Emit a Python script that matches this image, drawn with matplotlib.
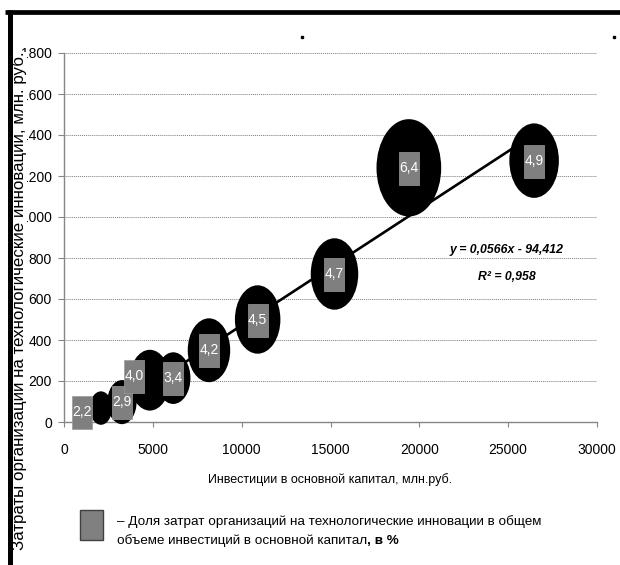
import numpy as np
import matplotlib
matplotlib.use('Agg')
import matplotlib.pyplot as plt
from matplotlib.path import Path
from matplotlib.transforms import Affine2D, offset_copy
from matplotlib.lines import Line2D
from matplotlib.patches import Rectangle

# ---- data ----
invest = [2080, 3260, 4830, 6150, 8160, 10900, 15225, 19410, 26460]   # x, mln rub
costs = [68, 97, 204, 214, 350, 500, 722, 1240, 1275]                  # y, mln rub
share = [2.2, 2.9, 4.0, 3.4, 4.2, 4.5, 4.7, 6.4, 4.9]                  # bubble size, %
share_labels = ['2,2', '2,9', '4,0', '3,4', '4,2', '4,5', '4,7', '6,4', '4,9']
x_ticks = [0, 5000, 10000, 15000, 20000, 25000, 30000]
y_ticks = [0, 200, 400, 600, 800, 1000, 1200, 1400, 1600, 1800]
trend_slope = 0.0566
trend_intercept = -94.412
eq_text = 'y = 0,0566x - 94,412'
r2_text = 'R² = 0,958'
xlabel = 'Инвестиции в основной капитал, млн.руб.'
ylabel = 'Затраты организаций на технологические инновации, млн. руб.'
legend_line1 = '– Доля затрат организаций на технологические инновации в общем'
legend_line2 = 'объеме инвестиций в основной капитал'
legend_tail = ', в %'

# label offsets in pixels (style / placement only)
label_dx = [-18.5, 0, -15.5, 0, 0, 0, 0, 0, 0]
label_dy = [-4, 0, 4.5, 0, 0, 0, 0, 0, 0]

FONT = ['Liberation Sans', 'DejaVu Sans']

W, H = 620, 565
fig = plt.figure(figsize=(W / 100, H / 100), dpi=100)
fig.patch.set_facecolor('white')

ax = fig.add_axes([64 / W, 1 - 422 / H, (597 - 64) / W, (422 - 53) / H])
ax.set_xlim(0, 30000)
ax.set_ylim(0, 1800)
ax.set_facecolor('white')

ax.set_xticks(x_ticks)
ax.set_yticks(y_ticks)
ax.set_xticklabels([str(t) for t in x_ticks], fontfamily=FONT, fontsize=10)
ax.set_yticklabels([str(t) for t in y_ticks], fontfamily=FONT, fontsize=10)
ax.tick_params(axis='x', direction='out', length=3.6, width=0.8, color='#868686', pad=11.5)
ax.tick_params(axis='y', direction='out', length=4.3, width=0.8, color='#868686', pad=4.5)

for s in ['top', 'right']:
    ax.spines[s].set_visible(False)
for s in ['left', 'bottom']:
    ax.spines[s].set_color('#868686')
    ax.spines[s].set_linewidth(1.0)

ax.yaxis.grid(True, linestyle=(0, (1, 1)), color='#7a7a7a', linewidth=0.7)
ax.set_axisbelow(True)

# trend line
xs = np.array([min(invest), max(invest)], dtype=float)
ax.plot(xs, trend_slope * xs + trend_intercept, color='black', lw=1.9, zorder=2.5,
        solid_capstyle='butt')

# bubbles (elliptical, width proportional to share)
ell = Affine2D().scale(0.665, 1.0).transform_path(Path.unit_circle())
sizes = [(v * 15.2 * 0.72) ** 2 for v in share]
ax.scatter(invest, costs, s=sizes, marker=ell, c='black', linewidths=0, zorder=3,
           clip_on=False)

# data labels: grey boxes with white text
rect = Path([(-0.303, -0.5), (0.303, -0.5), (0.303, 0.5), (-0.303, 0.5), (-0.303, -0.5)],
            [Path.MOVETO, Path.LINETO, Path.LINETO, Path.LINETO, Path.CLOSEPOLY])
box_s = (33 * 0.72) ** 2
for x, y, lab, dx, dy in zip(invest, costs, share_labels, label_dx, label_dy):
    tr = offset_copy(ax.transData, fig=fig, x=dx, y=dy, units='dots')
    ax.scatter([x], [y], s=box_s, marker=rect, c='#7f7f7f', edgecolors='#9a9a9a',
               linewidths=0.5, transform=tr, zorder=4, clip_on=False)
    ax.text(x, y, lab, transform=tr, ha='center', va='center', color='white',
            fontsize=10, fontfamily=FONT, zorder=5, clip_on=False)

# regression equation
fig.text(507 / W, 1 - 250 / H, eq_text, ha='center', va='center', fontsize=8.8,
         fontfamily=FONT, fontweight='bold', fontstyle='italic')
fig.text(507 / W, 1 - 277 / H, r2_text, ha='center', va='center', fontsize=8.8,
         fontfamily=FONT, fontweight='bold', fontstyle='italic')

# axis titles
fig.text(330 / W, 1 - 480 / H, xlabel, ha='center', va='center', fontsize=9,
         fontfamily=FONT)
fig.text(19.3 / W, 1 - 301 / H, ylabel, ha='center', va='center', rotation=90,
         fontsize=12.2, fontfamily=FONT, zorder=10,
         bbox=dict(facecolor='white', edgecolor='none', pad=0))

# legend
fig.add_artist(Rectangle((80 / W, 1 - 540 / H), 23 / W, 30 / H, transform=fig.transFigure,
                         facecolor='#808080', edgecolor='#404040', linewidth=1))
fig.text(117 / W, 1 - 522 / H, legend_line1, ha='left', va='center', fontsize=9.7,
         fontfamily=FONT)
t2 = fig.text(117 / W, 1 - 541 / H, legend_line2, ha='left', va='center', fontsize=9.7,
              fontfamily=FONT)
ax.annotate(legend_tail, xy=(1, 0.5), xycoords=t2, ha='left', va='center', fontsize=9.7,
            fontfamily=FONT, fontweight='bold', annotation_clip=False)

# outer frame (top and left) and stray dots
fig.add_artist(Line2D([5 / W, 1], [1 - 12 / H, 1 - 12 / H], transform=fig.transFigure,
                      color='black', lw=3.4, solid_capstyle='butt', zorder=20))
fig.add_artist(Line2D([9.5 / W, 9.5 / W], [0, 1 - 10 / H], transform=fig.transFigure,
                      color='black', lw=3.6, solid_capstyle='butt', zorder=20))
fig.add_artist(Line2D([302 / W, 614 / W], [1 - 37 / H, 1 - 37 / H], transform=fig.transFigure,
                      color='black', lw=0, marker='s', markersize=2, zorder=20))

fig.savefig('out.png', dpi=100, facecolor='white')
